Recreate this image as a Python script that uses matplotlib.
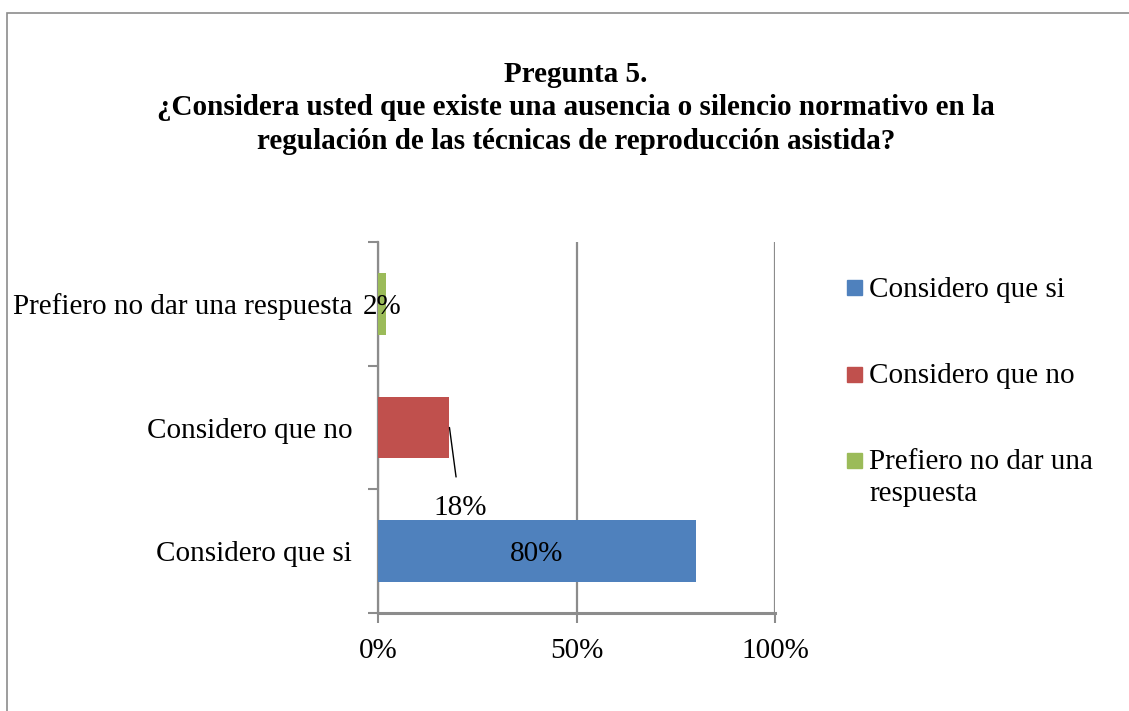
import matplotlib
matplotlib.use('Agg')
import matplotlib.pyplot as plt
from matplotlib.patches import Rectangle

plt.rcParams['font.family'] = ['Liberation Serif', 'DejaVu Serif']

# datos
categorias = ['Considero que si', 'Considero que no', 'Prefiero no dar una respuesta']
valores = [0.80, 0.18, 0.02]
etiquetas = ['80%', '18%', '2%']
leyenda = ['Considero que si', 'Considero que no', 'Prefiero no dar una\nrespuesta']
colores = ['#4F81BD', '#C0504D', '#9BBB59']
ticks_x = [0, 0.5, 1.0]
ticks_x_txt = ['0%', '50%', '100%']

titulo = ('Pregunta 5.\n'
          '¿Considera usted que existe una ausencia o silencio normativo en la\n'
          'regulación de las técnicas de reproducción asistida?')

W, H = 1129, 711
fs = 21
fig = plt.figure(figsize=(W / 100, H / 100), dpi=100)

# marco del gráfico
fig.patches.append(Rectangle((7 / W, -0.1), 1.2, 1 - 13 / H + 0.1, transform=fig.transFigure,
                             fill=False, edgecolor='#8c8c8c', linewidth=1.2))

ax = fig.add_axes([378 / W, 1 - 613 / H, 397 / W, 371 / H])
pos = list(range(len(categorias)))
ax.barh(pos, valores, height=0.5, color=colores, zorder=3)

ax.set_xlim(0, 1)
ax.set_ylim(-0.5, 2.5)
ax.set_xticks(ticks_x)
ax.set_xticklabels(ticks_x_txt, fontsize=fs)
ax.set_yticks(pos)
ax.set_yticklabels(categorias, fontsize=fs)
ax.set_yticks([-0.5, 0.5, 1.5, 2.5], minor=True)
ax.tick_params(axis='y', which='major', length=0, pad=18.5)
ax.tick_params(axis='y', which='minor', length=7, width=1.5, color='#8c8c8c', direction='out')
ax.tick_params(axis='x', length=7, width=1.5, color='#8c8c8c', pad=11)

ax.grid(axis='x', color='#8c8c8c', linewidth=1.6, zorder=1)
for s in ['top', 'right']:
    ax.spines[s].set_visible(False)
ax.spines['left'].set_color('#8c8c8c')
ax.spines['left'].set_linewidth(1.6)
ax.spines['bottom'].set_color('#8c8c8c')
ax.spines['bottom'].set_linewidth(2.2)

# etiquetas de datos
ax.text(valores[0] / 2, pos[0], etiquetas[0], ha='center', va='center_baseline', fontsize=fs, zorder=4)
ax.annotate(etiquetas[1], xy=(valores[1], pos[1]), xytext=(valores[1] + 0.027, pos[1] - 0.65),
            ha='center', va='center', fontsize=fs, zorder=4,
            arrowprops=dict(arrowstyle='-', color='black', lw=1, shrinkA=11, shrinkB=0))
ax.text(valores[2] / 2, pos[2], etiquetas[2], ha='center', va='center_baseline', fontsize=fs, zorder=4)

# leyenda
for i, (lab, col) in enumerate(zip(leyenda, colores)):
    yc = 1 - (288 + 86 * i) / H
    fig.patches.append(Rectangle((847 / W, yc - 7.5 / H), 15 / W, 15 / H,
                                 transform=fig.transFigure, color=col))
    fig.text(869 / W, yc + 11 / H, lab, ha='left', va='top', fontsize=fs, linespacing=1.3)

fig.text(576 / W, 1 - 61 / H, titulo, ha='center', va='top', fontsize=fs,
         fontweight='bold', linespacing=1.3)

fig.savefig('out.png', dpi=100)
